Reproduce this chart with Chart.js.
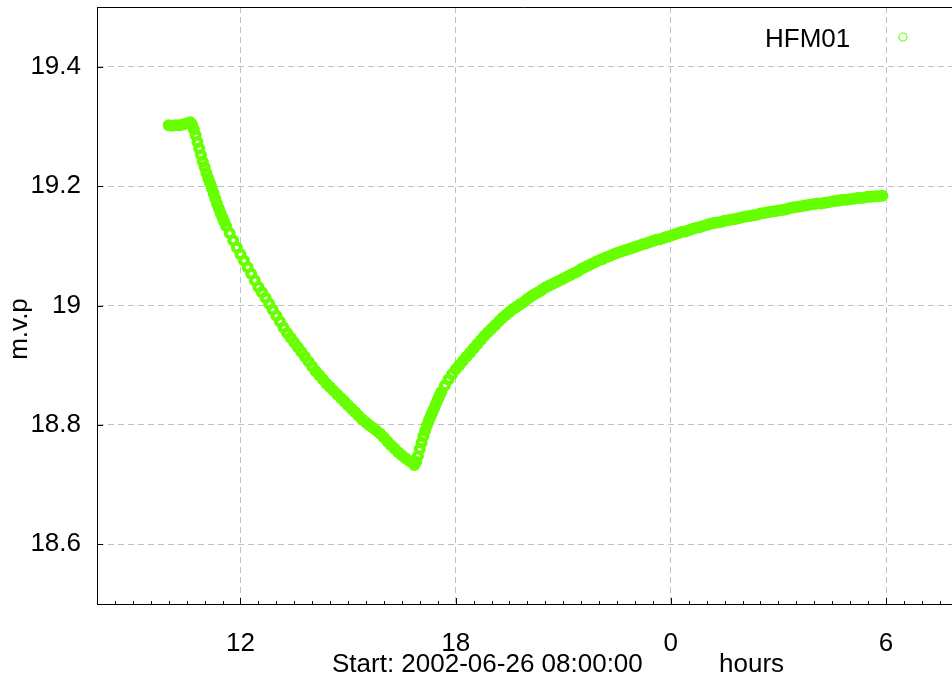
<!DOCTYPE html>
<html>
<head>
<meta charset="utf-8">
<title>HFM01 m.v.p</title>
<script src="https://cdn.jsdelivr.net/npm/chart.js@4.4.1/dist/chart.umd.min.js"></script>
<style>
  html, body { margin: 0; padding: 0; background: #fff; }
  #wrap { width: 952px; height: 684px; }
</style>
</head>
<body>
<div id="wrap"><canvas id="chart" width="952" height="684"></canvas></div>
<script>
/* === HFM01 m.v.p scatter === */

var seriesLabel = 'HFM01';
var startLabel = 'Start: 2002-06-26 08:00:00';
var unitLabel = 'hours';
var yTitle = 'm.v.p';

// hours after start (08:00)
var hours = [
  2.0, 2.1, 2.2, 2.3, 2.4, 2.5, 2.6,
  2.65, 2.7, 2.75, 2.8, 2.85, 2.9, 2.95, 3.0, 3.05, 3.1, 3.15, 3.2, 3.25, 3.3, 3.35, 3.4, 3.45, 3.5, 3.55, 3.6,
  3.7, 3.8, 3.9, 4.0, 4.1, 4.2, 4.3, 4.4, 4.5, 4.6, 4.7, 4.8, 4.9, 5.0, 5.1, 5.2, 5.3, 5.4, 5.5, 5.6, 5.7, 5.8, 5.9,
  6.0, 6.1, 6.2, 6.3, 6.4, 6.5, 6.6, 6.7, 6.8, 6.9, 7.0, 7.1, 7.2, 7.3, 7.4, 7.5, 7.6, 7.7, 7.8, 7.9,
  8.0, 8.1, 8.2, 8.3, 8.4, 8.5, 8.6, 8.7, 8.8, 8.85,
  8.9, 8.95, 9.0, 9.05, 9.1, 9.15, 9.2, 9.25, 9.3, 9.35, 9.4, 9.45, 9.5, 9.55, 9.6,
  9.7, 9.8, 9.9, 10.0, 10.1, 10.2, 10.3, 10.4, 10.5, 10.6, 10.7, 10.8, 10.9,
  11.0, 11.1, 11.2, 11.3, 11.4, 11.5, 11.6, 11.7, 11.8, 11.9,
  12.0, 12.1, 12.2, 12.3, 12.4, 12.5, 12.6, 12.7, 12.8, 12.9,
  13.0, 13.1, 13.2, 13.3, 13.4, 13.5, 13.6, 13.7, 13.8, 13.9,
  14.0, 14.1, 14.2, 14.3, 14.4, 14.5, 14.6, 14.7, 14.8, 14.9,
  15.0, 15.1, 15.2, 15.3, 15.4, 15.5, 15.6, 15.7, 15.8, 15.9,
  16.0, 16.1, 16.2, 16.3, 16.4, 16.5, 16.6, 16.7, 16.8, 16.9,
  17.0, 17.1, 17.2, 17.3, 17.4, 17.5, 17.6, 17.7, 17.8, 17.9,
  18.0, 18.1, 18.2, 18.3, 18.4, 18.5, 18.6, 18.7, 18.8, 18.9,
  19.0, 19.1, 19.2, 19.3, 19.4, 19.5, 19.6, 19.7, 19.8, 19.9,
  20.0, 20.1, 20.2, 20.3, 20.4, 20.5, 20.6, 20.7, 20.8, 20.9,
  21.0, 21.1, 21.2, 21.3, 21.4, 21.5, 21.6, 21.7, 21.8, 21.9
];

var mvp = [
  19.302, 19.301, 19.302, 19.302, 19.303, 19.305, 19.307,
  19.303, 19.295, 19.285, 19.274, 19.263, 19.252, 19.241, 19.232, 19.222, 19.213, 19.205, 19.197, 19.188, 19.179, 19.170, 19.162, 19.154, 19.147, 19.140, 19.133,
  19.121, 19.109, 19.097, 19.086, 19.075, 19.064, 19.053, 19.042, 19.031, 19.022, 19.013, 19.003, 18.993, 18.983, 18.973, 18.963, 18.954, 18.946, 18.938, 18.930, 18.922, 18.914, 18.906,
  18.898, 18.890, 18.883, 18.876, 18.869, 18.863, 18.857, 18.851, 18.845, 18.839, 18.833, 18.827, 18.821, 18.815, 18.809, 18.804, 18.799, 18.795, 18.790, 18.785,
  18.779, 18.772, 18.766, 18.760, 18.754, 18.749, 18.744, 18.740, 18.736, 18.733,
  18.738, 18.748, 18.760, 18.770, 18.781, 18.790, 18.799, 18.807, 18.814, 18.821, 18.828, 18.835, 18.842, 18.849, 18.855,
  18.866, 18.876, 18.885, 18.893, 18.900, 18.907, 18.914, 18.921, 18.928, 18.935, 18.942, 18.949, 18.955,
  18.961, 18.967, 18.973, 18.979, 18.984, 18.989, 18.994, 18.998, 19.002, 19.006,
  19.011, 19.015, 19.019, 19.022, 19.026, 19.030, 19.033, 19.036, 19.039, 19.042,
  19.045, 19.048, 19.051, 19.054, 19.057, 19.061, 19.064, 19.067, 19.070, 19.073,
  19.076, 19.078, 19.081, 19.083, 19.086, 19.088, 19.090, 19.092, 19.094, 19.096,
  19.098, 19.100, 19.102, 19.104, 19.106, 19.108, 19.110, 19.111, 19.113, 19.115,
  19.117, 19.119, 19.121, 19.123, 19.124, 19.126, 19.128, 19.130, 19.131, 19.133,
  19.135, 19.137, 19.138, 19.139, 19.140, 19.142, 19.143, 19.144, 19.145, 19.146,
  19.148, 19.149, 19.150, 19.151, 19.152, 19.154, 19.155, 19.156, 19.157, 19.158,
  19.159, 19.160, 19.161, 19.163, 19.164, 19.165, 19.166, 19.167, 19.168, 19.169,
  19.170, 19.171, 19.171, 19.172, 19.173, 19.174, 19.175, 19.176, 19.177, 19.177,
  19.178, 19.179, 19.180, 19.180, 19.181, 19.182, 19.182, 19.183, 19.183, 19.184
];

// clock labels at 6-hour marks (hours after start)
var xMajorHours = [4, 10, 16, 22];
var xMajorLabels = ['12', '18', '0', '6'];
var yTickValues = [18.6, 18.8, 19.0, 19.2, 19.4];
var yTickLabels = ['18.6', '18.8', '19', '19.2', '19.4'];

var green = '#66ff00';
var gridGrey = '#c0c0c0';
var fontFamily = "'Liberation Sans', Arial, sans-serif";

function majorIndex(v) {
  for (var i = 0; i < xMajorHours.length; i++) {
    if (Math.abs(v - xMajorHours[i]) < 1e-6) return i;
  }
  return -1;
}

function zeroPadding(scale) {
  scale.paddingTop = 0;
  scale.paddingBottom = 0;
  scale.paddingLeft = 0;
  scale.paddingRight = 0;
}

// top frame, inward tick marks, axis texts and legend
var decorations = {
  id: 'decorations',
  afterDraw: function (chart) {
    var ctx = chart.ctx;
    var a = chart.chartArea;
    var xs = chart.scales.x;
    var ys = chart.scales.y;

    ctx.save();
    ctx.strokeStyle = '#000';
    ctx.lineWidth = 1;
    ctx.beginPath();
    ctx.moveTo(a.left, a.top + 0.5);
    ctx.lineTo(a.right, a.top + 0.5);
    xs.ticks.forEach(function (t) {
      var px = Math.round(xs.getPixelForValue(t.value)) + 0.5;
      var len = majorIndex(t.value) >= 0 ? 6 : 3;
      ctx.moveTo(px, a.bottom);
      ctx.lineTo(px, a.bottom - len);
    });
    ys.ticks.forEach(function (t) {
      var py = Math.round(ys.getPixelForValue(t.value)) + 0.5;
      ctx.moveTo(a.left, py);
      ctx.lineTo(a.left + 6, py);
    });
    ctx.stroke();

    ctx.fillStyle = '#000';
    ctx.font = '26px ' + fontFamily;
    ctx.textBaseline = 'alphabetic';
    ctx.textAlign = 'left';
    ctx.fillText(startLabel, 332, 672);
    ctx.fillText(unitLabel, 719, 672);
    ctx.fillText(chart.data.datasets[0].label, 765, 47);

    ctx.strokeStyle = green;
    ctx.lineWidth = 1.2;
    ctx.beginPath();
    ctx.arc(903, 37, 4, 0, Math.PI * 2);
    ctx.stroke();

    ctx.translate(27, 329);
    ctx.rotate(-Math.PI / 2);
    ctx.textAlign = 'center';
    ctx.fillText(yTitle, 0, 0);
    ctx.restore();
  }
};

var points = hours.map(function (h, i) { return { x: h, y: mvp[i] }; });

new Chart(document.getElementById('chart'), {
  type: 'scatter',
  data: {
    datasets: [{
      label: seriesLabel,
      data: points,
      pointStyle: 'circle',
      pointRadius: 4,
      pointBorderWidth: 4,
      pointBorderColor: green,
      pointBackgroundColor: 'rgba(0,0,0,0)',
      showLine: false,
      clip: false,
    }],
  },
  options: {
    responsive: false,
    animation: false,
    devicePixelRatio: 1,
    layout: { autoPadding: false, padding: { top: 7, right: 0, bottom: 0, left: 0 } },
    plugins: {
      legend: { display: false },
      tooltip: { enabled: false },
    },
    scales: {
      x: {
        type: 'linear',
        min: 0,
        max: 23.84,
        afterFit: function (scale) { scale.height = 80; zeroPadding(scale); },
        ticks: {
          stepSize: 0.5,
          includeBounds: false,
          autoSkip: false,
          maxRotation: 0,
          padding: 24,
          color: '#000',
          font: { family: fontFamily, size: 26 },
          callback: function (v) {
            var i = majorIndex(v);
            return i >= 0 ? xMajorLabels[i] : '';
          },
        },
        grid: {
          drawTicks: false,
          lineWidth: 1,
          color: function (c) {
            return c.tick && majorIndex(c.tick.value) >= 0 ? gridGrey : 'rgba(0,0,0,0)';
          },
        },
        border: { display: true, color: '#000', width: 1, dash: [6, 4] },
      },
      y: {
        type: 'linear',
        min: 18.5,
        max: 19.5,
        afterFit: function (scale) { scale.width = 97; zeroPadding(scale); },
        afterBuildTicks: function (scale) {
          scale.ticks = yTickValues.map(function (v) { return { value: v }; });
        },
        ticks: {
          padding: 16,
          color: '#000',
          font: { family: fontFamily, size: 26 },
          callback: function (v) {
            var i = yTickValues.indexOf(v);
            return i >= 0 ? yTickLabels[i] : '';
          },
        },
        grid: { drawTicks: false, lineWidth: 1, color: gridGrey },
        border: { display: true, color: '#000', width: 1, dash: [6, 4] },
      },
    },
  },
  plugins: [decorations],
});
</script>
</body>
</html>
